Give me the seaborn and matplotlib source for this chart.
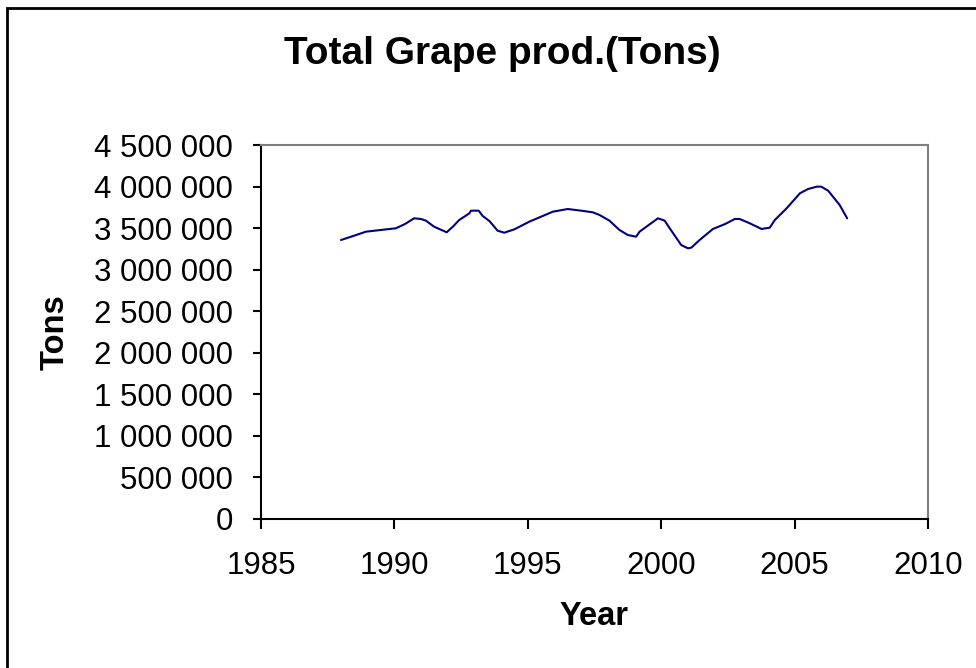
import pandas as pd
import matplotlib.pyplot as plt
import matplotlib.ticker as mticker
from matplotlib.patches import Rectangle
import seaborn as sns

# Werte (Jahr, Tonnen)
years = [1988.0, 1988.5, 1988.93, 1989.5, 1990.06, 1990.4, 1990.74, 1991.0, 1991.18,
         1991.49, 1991.96, 1992.2, 1992.43, 1992.81, 1992.87, 1993.16, 1993.31, 1993.56,
         1993.87, 1994.12, 1994.5, 1995.06, 1995.56, 1995.94, 1996.5, 1997.0, 1997.44,
         1997.69, 1998.06, 1998.44, 1998.75, 1999.06, 1999.19, 1999.5, 1999.88, 2000.13,
         2000.32, 2000.75, 2001.0, 2001.13, 2001.44, 2001.94, 2002.4, 2002.76, 2002.94,
         2003.32, 2003.76, 2004.07, 2004.26, 2004.7, 2005.2, 2005.5, 2005.83, 2006.0,
         2006.26, 2006.69, 2006.97]
tons = [3357000, 3410000, 3457000, 3478000, 3498000, 3550000, 3618000, 3610000, 3590000,
        3517000, 3450000, 3520000, 3598000, 3678000, 3710000, 3710000, 3646000, 3586000,
        3469000, 3445000, 3486000, 3578000, 3646000, 3698000, 3730000, 3710000, 3690000,
        3658000, 3590000, 3477000, 3417000, 3397000, 3457000, 3530000, 3618000, 3590000,
        3498000, 3297000, 3257000, 3265000, 3357000, 3490000, 3550000, 3610000, 3610000,
        3558000, 3490000, 3505000, 3598000, 3738000, 3919000, 3970000, 3999000, 3999000,
        3950000, 3778000, 3618000]
x_ticks = [1985, 1990, 1995, 2000, 2005, 2010]
y_ticks = [0, 500000, 1000000, 1500000, 2000000, 2500000, 3000000, 3500000, 4000000, 4500000]

df = pd.DataFrame({'Year': years, 'Tons': tons})

sns.set_style('white')
plt.rcParams['font.family'] = ['Liberation Sans', 'DejaVu Sans']
plt.rcParams['text.color'] = 'black'
plt.rcParams['axes.labelcolor'] = 'black'

fig = plt.figure(figsize=(9.76, 6.68), dpi=100)
ax = fig.add_axes([0.2674, 0.2231, 0.6834, 0.5598])

sns.lineplot(data=df, x='Year', y='Tons', ax=ax, sort=False, color='#000080', linewidth=1.5)

ax.set_xlim(1985, 2010)
ax.set_ylim(0, 4500000)
ax.set_xticks(x_ticks)
ax.set_yticks(y_ticks)
ax.yaxis.set_major_formatter(mticker.FuncFormatter(lambda v, p: f'{int(v):,}'.replace(',', ' ')))

ax.tick_params(axis='both', labelsize=22.5, colors='black', direction='out', width=1.5)
ax.tick_params(axis='y', length=6, pad=14, left=True)
ax.tick_params(axis='x', length=7, pad=16, bottom=True)

for side in ['top', 'right']:
    ax.spines[side].set_color('#808080')
    ax.spines[side].set_linewidth(1.5)
for side in ['left', 'bottom']:
    ax.spines[side].set_color('black')
    ax.spines[side].set_linewidth(1.5)

ax.set_xlabel('Year', fontsize=23.5, fontweight='bold')
ax.set_ylabel('Tons', fontsize=23.5, fontweight='bold')
ax.xaxis.set_label_coords(0.5, -0.261)
ax.xaxis.label.set_va('center')
ax.yaxis.set_label_coords(-0.309, 0.5)
ax.yaxis.label.set_va('center')

# Titel ueber dem ganzen Diagramm
fig.text(502 / 976, 1 - 54 / 668, 'Total Grape prod.(Tons)', fontsize=28, fontweight='bold',
         ha='center', va='center')

# Rahmen um das ganze Diagramm
fig.add_artist(Rectangle((7 / 976, -0.1), 1.2, (668 - 8) / 668 + 0.1,
                         transform=fig.transFigure, fill=False, edgecolor='black', linewidth=2))

fig.savefig('out.png', dpi=100)
